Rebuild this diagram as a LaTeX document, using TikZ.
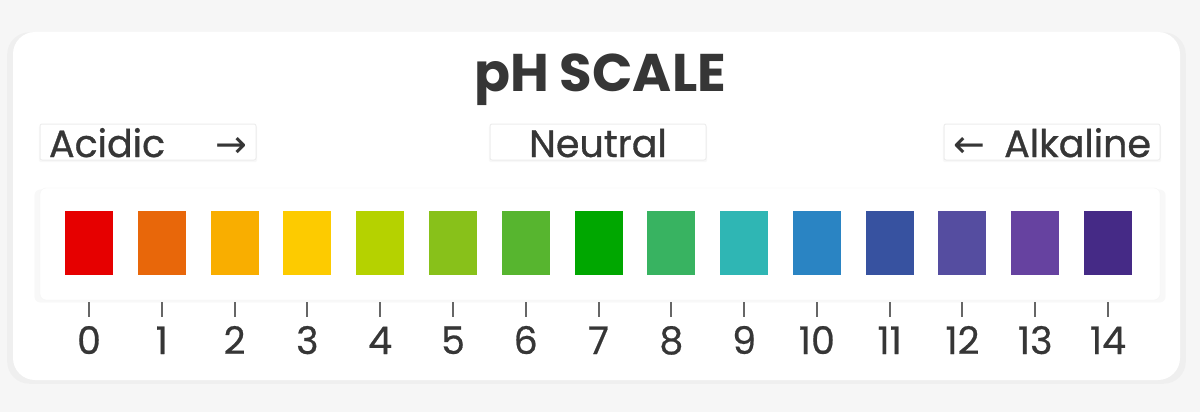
\documentclass[tikz,border=0pt]{standalone}
\usepackage{fontspec}
\setmainfont{Poppins}
\newfontfamily\arrowfont{DejaVu Sans}
\usepackage{tikz}
\usetikzlibrary{calc, shadows}

\definecolor{ink}{HTML}{363636}
\definecolor{tickgray}{HTML}{666666}
\definecolor{bggray}{HTML}{F6F6F6}
\definecolor{ph0}{HTML}{E60000}
\definecolor{ph1}{HTML}{E8670A}
\definecolor{ph2}{HTML}{F9AE00}
\definecolor{ph3}{HTML}{FDCB00}
\definecolor{ph4}{HTML}{B5D200}
\definecolor{ph5}{HTML}{88C11A}
\definecolor{ph6}{HTML}{57B52F}
\definecolor{ph7}{HTML}{00A700}
\definecolor{ph8}{HTML}{38B361}
\definecolor{ph9}{HTML}{2FB6B4}
\definecolor{ph10}{HTML}{2A84C3}
\definecolor{ph11}{HTML}{3752A0}
\definecolor{ph12}{HTML}{554DA0}
\definecolor{ph13}{HTML}{6642A0}
\definecolor{ph14}{HTML}{452A86}

\tikzset{
  softshadow/.style={drop shadow={opacity=0.05, shadow xshift=0pt, shadow yshift=-2pt, shadow scale=1.01}},
  labelbox/.style={fill=white, draw=black!7, line width=1pt, softshadow, rounded corners=2pt,
    inner xsep=9pt, inner ysep=0pt, text width=198pt, text height=33pt, text depth=3pt,
    font=\fontsize{38}{38}\selectfont\addfontfeatures{FakeBold=0.8}, text=ink},
  phbox/.style={minimum width=48pt, minimum height=64pt, inner sep=0pt},
  phtick/.style={draw=tickgray, line width=2pt},
  phnum/.style={anchor=base, text=ink, font=\fontsize{38}{38}\selectfont\addfontfeatures{FakeBold=0.6}}
}

\begin{document}
\begin{tikzpicture}[x=1pt, y=-1pt]
    \useasboundingbox[fill=bggray] (0,0) rectangle (1200,412);

    \fill[white, rounded corners=22pt, softshadow] (13,32) rectangle (1180,380);
    \filldraw[fill=white, draw=black!4, rounded corners=6pt, softshadow] (40,188) rectangle (1160,300);

    \node[anchor=base, text=ink, font=\fontsize{53}{53}\selectfont\bfseries] (title) at (600,92) {pH SCALE};

    \node[labelbox, align=left] (acid) at (148,142) {Acidic\hfill{\arrowfont →}};
    \node[labelbox, align=center] (neutral) at (598,142) {Neutral};
    \node[labelbox, align=right] (alkali) at (1052,142) {{\arrowfont ←}\hfill Alkaline};

    \foreach \i in {0,...,14} {
        \node[phbox, fill=ph\i] (sq\i) at ({89+72.79*\i},243) {};
        \coordinate (t\i) at ({89+72.79*\i},302);
        \draw[phtick] (t\i) -- ++(0,15);
        \node[phnum] (n\i) at ({89+72.79*\i},354) {\i};
    }
\end{tikzpicture}
\end{document}
